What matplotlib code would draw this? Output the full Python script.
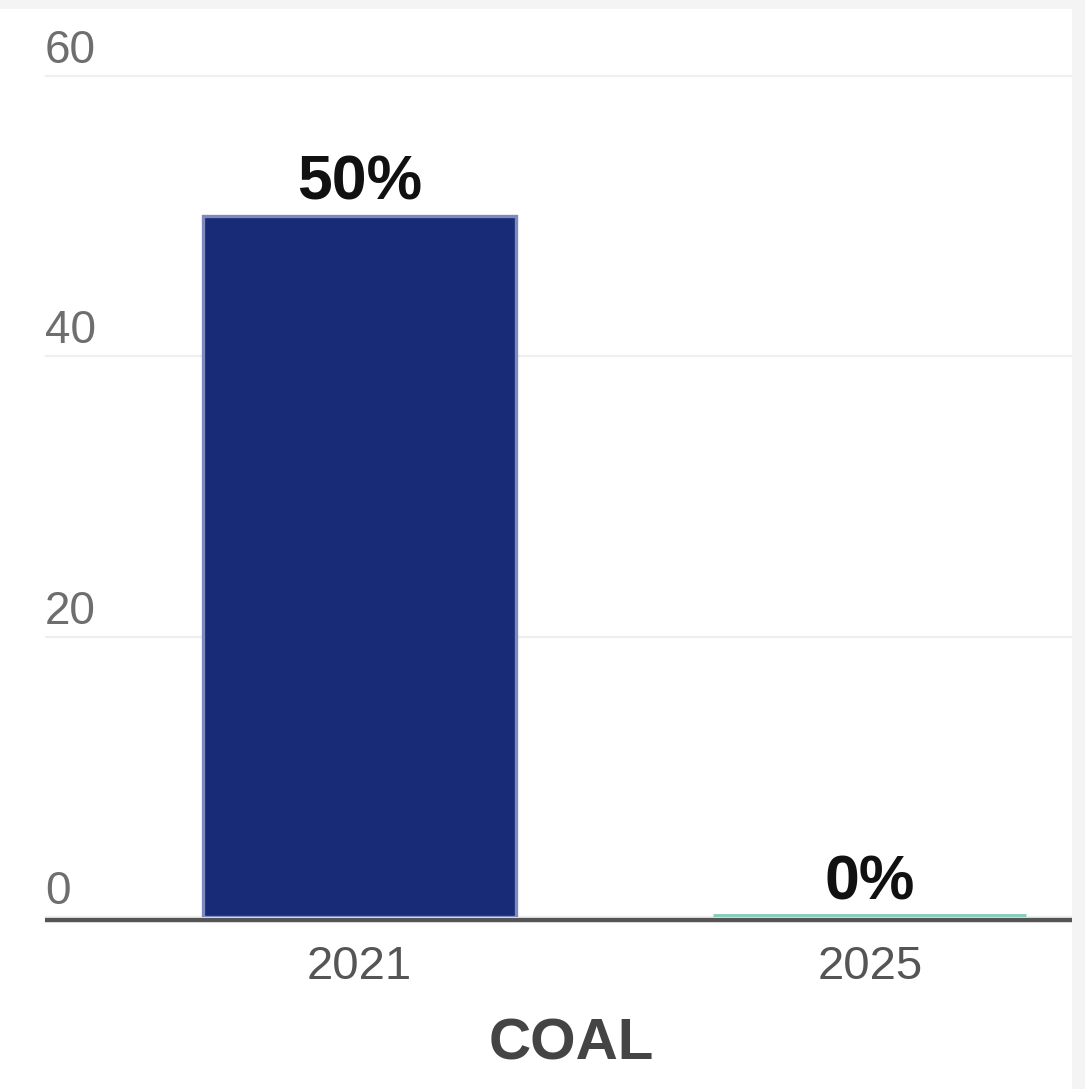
import matplotlib
matplotlib.use('Agg')
import matplotlib.pyplot as plt
from matplotlib.patches import Rectangle

# data
years = ['2021', '2025']
share = [50, 0]
labels = ['50%', '0%']
bar_colors = ['#172b77', '#8fd0c2']
edge_colors = ['#8089bb', '#8acbbd']
yticks = [0, 20, 40, 60]
category = 'COAL'

plt.rcParams['font.family'] = ['Liberation Sans', 'DejaVu Sans']

fig = plt.figure(figsize=(10.85, 10.89), dpi=100, facecolor='#f4f4f4')
# white panel (light grey strip on top and right)
fig.patches.append(Rectangle((0, 0), 1072 / 1085, 1 - 9 / 1089, transform=fig.transFigure,
                             facecolor='white', edgecolor='none', zorder=-5))

ax = fig.add_axes([45 / 1085, (1089 - 917) / 1089, (1072 - 45) / 1085, (917 - 62) / 1089])
ax.set_facecolor('none')

x = list(range(len(years)))
bars = ax.bar(x, share, width=0.613, color=bar_colors, edgecolor=edge_colors,
              linewidth=[2.4, 5], zorder=3)

ax.set_xlim(-0.616, 1.396)
ax.set_ylim(0, 61)

# grid lines
ax.set_yticks(yticks)
ax.yaxis.grid(True, color='#efefef', linewidth=1.6, zorder=0)
ax.tick_params(axis='y', left=False, labelleft=False)
for v in yticks:
    ax.annotate(str(v), xy=(0, v), xycoords=('axes fraction', 'data'), xytext=(0, 13),
                textcoords='offset pixels', ha='left', va='baseline', fontsize=33, color='#6e6e6e')

# x tick labels
ax.set_xticks(x, years)
ax.tick_params(axis='x', bottom=False, pad=14, labelsize=34, labelcolor='#555555')

for s in ['top', 'right', 'left']:
    ax.spines[s].set_visible(False)
ax.spines['bottom'].set_color('#555555')
ax.spines['bottom'].set_linewidth(3.2)
ax.spines['bottom'].set_capstyle('butt')
ax.spines['bottom'].set_position(('outward', 2.5))
ax.spines['bottom'].set_zorder(4)

# value labels
for xi, v, lab in zip(x, share, labels):
    ax.annotate(lab, xy=(xi, v), xytext=(0, 17), textcoords='offset pixels', ha='center',
                va='baseline', fontsize=45, fontweight='bold', color='#111111')

fig.text(571 / 1085, 29 / 1089, category, ha='center', va='baseline', fontsize=42,
         fontweight='bold', color='#444444')

fig.savefig('out.png', dpi=100, facecolor=fig.get_facecolor())
